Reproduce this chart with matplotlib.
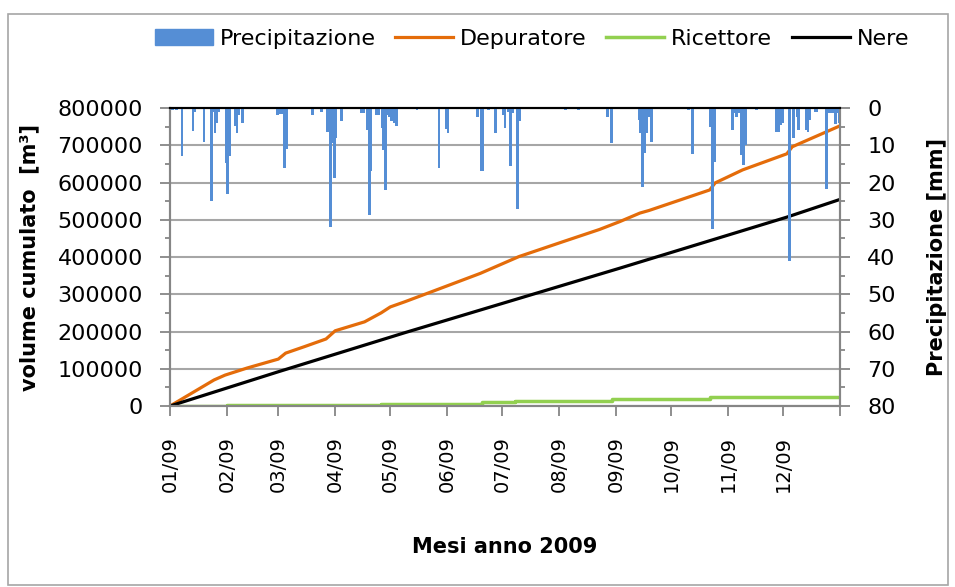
import numpy as np
import matplotlib.pyplot as plt
from matplotlib.patches import Patch, Rectangle
from matplotlib.lines import Line2D
from matplotlib.ticker import MultipleLocator

plt.rcParams['font.family'] = ['DejaVu Sans']

# daily rain (day of year 0..364, mm)
rain_day = [1, 3, 6, 12, 13, 18, 22, 23, 24, 25, 26, 30, 31, 32, 35, 36, 37, 39,
            58, 59, 60, 61, 62, 63, 77, 82, 85, 86, 87, 88, 89, 90, 93, 104, 105,
            107, 108, 109, 112, 113, 115, 116, 117, 118, 119, 120, 121, 122, 123,
            134, 146, 150, 151, 167, 169, 170, 173, 177, 181, 182, 184, 185, 186,
            189, 190, 215, 222, 238, 240, 255, 256, 257, 258, 259, 260, 261, 262,
            282, 284, 294, 295, 296, 306, 307, 308, 309, 311, 312, 313, 319,
            330, 331, 332, 333, 337, 339, 341, 342, 346, 347, 348, 351, 352,
            357, 358, 359, 360, 361, 362, 363, 364]
rain_mm = [0.5, 0.5, 12.9, 6.1, 1.0, 9.0, 24.9, 1.0, 6.8, 4.0, 1.0, 14.8, 23.2, 12.9, 4.8, 6.8, 2.0, 4.0,
           2.0, 1.6, 1.6, 1.6, 16.0, 11.0, 1.9, 1.0, 6.4, 6.4, 32.0, 9.5, 18.9, 8.1, 3.4, 1.3, 1.3,
           6.0, 28.7, 17.0, 1.9, 1.9, 5.5, 11.3, 22.0, 2.0, 2.5, 3.4, 2.0, 4.0, 4.8,
           0.5, 16.0, 5.6, 6.8, 2.5, 16.8, 16.8, 0.5, 6.8, 1.9, 5.5, 1.0, 15.5, 1.3,
           27.0, 3.4, 0.5, 0.5, 2.5, 9.5, 3.2, 6.8, 21.3, 12.0, 6.8, 2.5, 2.5, 9.0,
           0.5, 12.3, 5.0, 32.6, 14.4, 6.0, 1.4, 2.5, 1.4, 12.6, 15.3, 9.9, 0.5,
           6.4, 6.4, 4.6, 4.1, 41.1, 8.1, 2.5, 5.9, 6.0, 6.4, 3.2, 1.0, 1.0,
           21.8, 1.3, 1.3, 1.3, 1.3, 4.3, 1.3, 4.0]

# cumulative volumes [m3]
dep_day = [0, 24, 30, 42, 59, 63, 73, 85, 90, 106, 115, 120, 128, 141, 169, 190,
           214, 234, 245, 256, 261, 294, 297, 312, 336, 339, 364]
dep_val = [0, 70000, 83000, 102000, 126000, 142000, 159000, 180000, 202000, 226000,
           250000, 266000, 280000, 304000, 356000, 401000, 441000, 474000, 495000,
           518000, 525000, 580000, 599000, 634000, 677000, 696000, 750000]

ric_day = [0, 31, 115, 170, 188, 241, 294, 364]
ric_val = [0, 2000, 6000, 10000, 14000, 18000, 23000, 23000]

ner_day = [0, 59, 128, 245, 336, 364]
ner_val = [0, 92000, 197000, 370000, 507000, 553000]

month_labels = ['01/09', '02/09', '03/09', '04/09', '05/09', '06/09',
                '07/09', '08/09', '09/09', '10/09', '11/09', '12/09']
month_start = (np.arange('2009-01', '2010-02', dtype='datetime64[M]')
               - np.datetime64('2009-01-01', 'D')).astype(int)

fig = plt.figure(figsize=(9.55, 5.87), dpi=100)
fig.patches.append(Rectangle((0.008, 0.004), 0.985, 0.972, transform=fig.transFigure,
                             fill=False, ec='#a6a6a6', lw=1.2))
ax = fig.add_axes([0.178, 0.3083, 0.7016, 0.5077])
ax2 = ax.twinx()

ax.plot(dep_day, dep_val, color='#e46c0a', lw=2.3)
ax.step(ric_day, ric_val, where='post', color='#92d050', lw=2.5)
ax.plot(ner_day, ner_val, color='black', lw=2.3)

ax2.bar(np.array(rain_day) + 0.5, rain_mm, width=1.5, color='#558ed5')

ax.set_xlim(0, 365)
ax.set_ylim(0, 800000)
ax2.set_ylim(80, 0)

ax.set_yticks(np.arange(0, 800001, 100000))
ax.yaxis.set_minor_locator(MultipleLocator(50000))
ax2.set_yticks(np.arange(0, 81, 10))
ax2.yaxis.set_minor_locator(MultipleLocator(5))
ax.set_xticks(list(month_start))
ax.set_xticklabels(month_labels + [''], rotation=90)

ax.grid(axis='y', color='#a6a6a6', lw=1.5)
ax.set_axisbelow(True)

for a in (ax, ax2):
    for s in ('left', 'right', 'bottom'):
        a.spines[s].set_color('#868686')
        a.spines[s].set_linewidth(1.5)
    a.spines['top'].set_color('black')
    a.spines['top'].set_linewidth(1.5)
    a.tick_params(which='major', length=7.5, width=1.3, color='#868686', labelsize=16, pad=12)
    a.tick_params(which='minor', length=3.6, width=1.3, color='#868686')
ax.tick_params(axis='x', labelsize=14, pad=14)

ax.set_ylabel('volume cumulato  [m³]', fontsize=15, fontweight='bold')
ax2.set_ylabel('Precipitazione [mm]', fontsize=15, fontweight='bold')
ax.set_xlabel('Mesi anno 2009', fontsize=15, fontweight='bold')
ax.yaxis.set_label_coords(-0.195, 0.5)
ax2.yaxis.set_label_coords(1.13, 0.5)
ax.xaxis.set_label_coords(0.5, -0.44)

handles = [Patch(color='#558ed5'),
           Line2D([], [], color='#e46c0a', lw=2.3),
           Line2D([], [], color='#92d050', lw=2.5),
           Line2D([], [], color='black', lw=2.3)]
fig.legend(handles, ['Precipitazione', 'Depuratore', 'Ricettore', 'Nere'],
           loc='center', bbox_to_anchor=(0.557, 0.934), ncol=4, frameon=False,
           fontsize=16, handlelength=2.6, handletextpad=0.3, columnspacing=0.9)

fig.savefig('out.png', dpi=100)
